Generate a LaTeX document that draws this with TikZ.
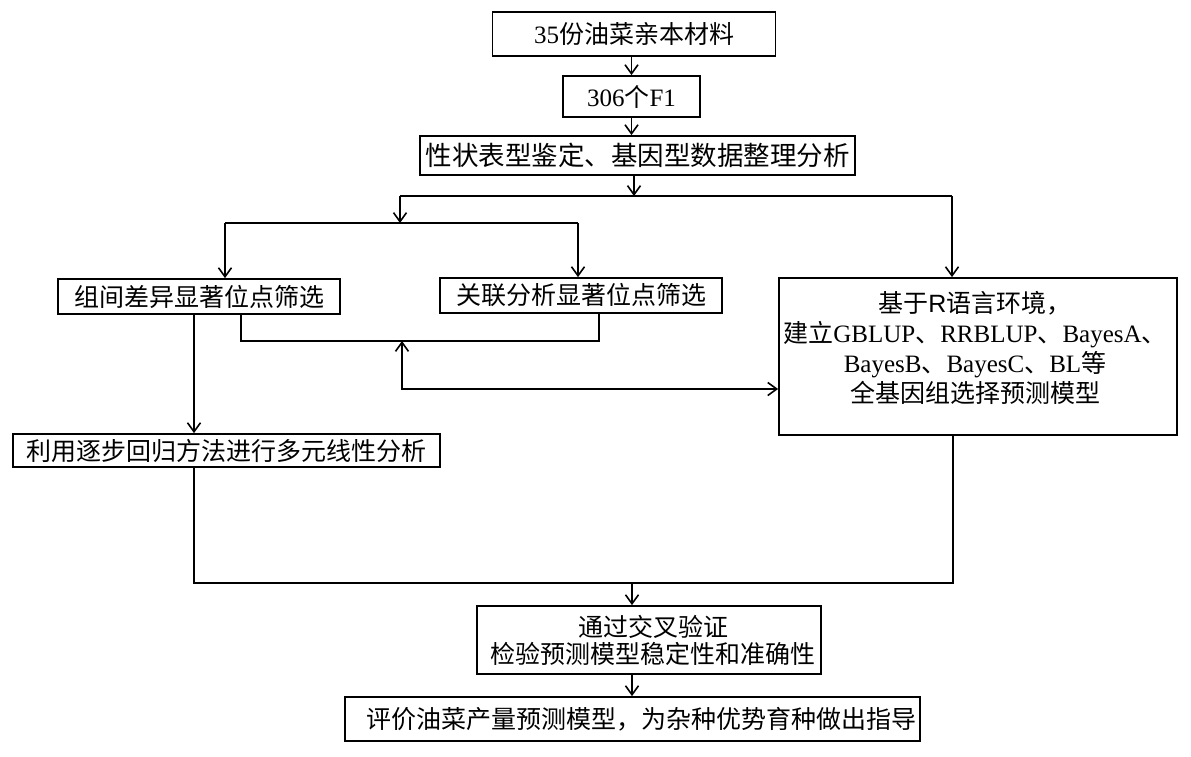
\documentclass[tikz,border=0pt]{standalone}
\usepackage{fontspec}
\setmainfont{Liberation Serif}
\setsansfont{Liberation Sans}
\newfontfamily\cjk{Noto Sans CJK SC}
\usetikzlibrary{arrows.meta,calc}
\newcommand{\zh}[1]{{\cjk #1}}
\begin{document}
\begin{tikzpicture}[x=1pt,y=-1pt,
  box/.style={draw,line width=1.8pt,inner sep=0pt,align=center,
    font=\fontsize{25}{29}\selectfont},
  txt/.style={inner sep=0pt,align=center,font=\fontsize{25}{30}\selectfont},
  conn/.style={line width=1.6pt},
  arr/.style={conn,-{Straight Barb[length=9pt,width=13pt]}},
  darr/.style={conn,{Straight Barb[length=9pt,width=13pt]}-{Straight Barb[length=9pt,width=13pt]}}]
\useasboundingbox (0,0) rectangle (1191,756);
\fill[white] (0,0) rectangle (1191,756);

% boxes
\node[box,minimum width=283pt,minimum height=44pt] (b1) at (634,34) {35\zh{份油菜亲本材料}};
\node[box,minimum width=137pt,minimum height=41pt] (b2) at (631.5,96.5) {306\zh{个}F1};
\node[box,minimum width=435pt,minimum height=39pt,font=\fontsize{26.5}{30}\selectfont] (b3) at (637.5,155.5) {\zh{性状表型鉴定、基因型数据整理分析}};
\node[box,minimum width=282pt,minimum height=35pt] (bA) at (199,296.5) {\zh{组间差异显著位点筛选}};
\node[box,minimum width=282pt,minimum height=35pt] (bB) at (581,295.5) {\zh{关联分析显著位点筛选}};
\node[box,minimum width=398pt,minimum height=157pt] (bR) at (978,356.5) {};
\node[txt] (bRt) at (975,348) {\zh{基于}{\sffamily R}\zh{语言环境，}\\
  \zh{建立}GBLUP\zh{、}RRBLUP\zh{、}BayesA\zh{、}\\
  BayesB\zh{、}BayesC\zh{、}BL\zh{等}\\
  \zh{全基因组选择预测模型}};
\node[box,minimum width=427pt,minimum height=33pt] (bC) at (226.5,450.5) {\zh{利用逐步回归方法进行多元线性分析}};
\node[box,minimum width=344pt,minimum height=68pt] (bD) at (649,640) {\hspace*{8pt}\zh{通过交叉验证}\\[-2pt]\hspace*{8pt}\zh{检验预测模型稳定性和准确性}};
\node[box,minimum width=575pt,minimum height=44pt] (bE) at (632.5,719) {\hspace*{18pt}\zh{评价油菜产量预测模型，为杂种优势育种做出指导}};

% junction coordinates
\coordinate (j1) at (634,196);
\coordinate (jL) at (400,196);
\coordinate (jR) at (952,196);
\coordinate (kM) at (400,223);
\coordinate (kL) at (225,223);
\coordinate (kR) at (578,223);
\coordinate (mA) at (241,341);
\coordinate (mB) at (599,341);
\coordinate (mM) at (402,341);
\coordinate (nM) at (402,389);
\coordinate (xA) at (194,0);
\coordinate (pL) at (194,583);
\coordinate (pR) at (953,583);
\coordinate (pM) at (632,583);

% connectors
\draw[arr] (b1.south -| b2) -- (b2.north);
\draw[arr] (b2.south) -- (b2.south |- b3.north);
\draw[arr] (b3.south -| j1) -- (j1);
\draw[conn] (jL) -- (jR);
\draw[arr] (jR) -- (jR |- bR.north);
\draw[arr] (jL) -- (kM);
\draw[conn] (kL) -- (kR);
\draw[arr] (kL) -- (kL |- bA.north);
\draw[arr] (kR) -- (kR |- bB.north);
\draw[conn] (bA.south -| mA) -- (mA) -- (mB) -- (bB.south -| mB);
\draw[darr] (mM) -- (nM) -- (nM -| bR.west);
\draw[arr] (bA.south -| xA) -- (bC.north -| xA);
\draw[conn] (bC.south -| xA) -- (pL) -- (pR) -- (bR.south -| pR);
\draw[arr] (pM) -- (pM |- bD.north);
\draw[arr] (bD.south -| pM) -- (pM |- bE.north);
\end{tikzpicture}
\end{document}
